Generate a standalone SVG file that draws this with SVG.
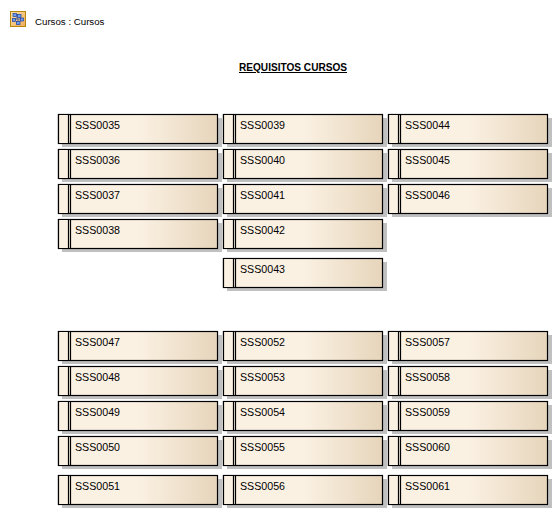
<svg xmlns="http://www.w3.org/2000/svg" width="558" height="515" viewBox="0 0 558 515">
<style>
text{font-family:"Liberation Sans",Arial,sans-serif;font-size:10.67px;fill:#000}
.s{fill:#c0c0c0}
.b{fill:url(#g);stroke:#000;stroke-width:1.2}
.l{fill:#fbf1e3;stroke:#000;stroke-width:1.2}
.i{fill:#6f9ff0;stroke:#1a3fa0;stroke-width:.7}
</style>
<defs>
<linearGradient id="g" x1="0" x2="1" y1="0" y2="0"><stop offset="0" stop-color="#fbf1e3"/><stop offset=".5" stop-color="#fbf1e3"/><stop offset="1" stop-color="#e6d5bb"/></linearGradient>
<linearGradient id="ic" x1="0" x2="1" y1="0" y2="1"><stop offset="0" stop-color="#fbe3a8"/><stop offset="1" stop-color="#eda95a"/></linearGradient>
<g id="n"><rect class="s" x="4" y="4" width="160" height="29"/><rect class="b" x=".5" y=".5" width="159" height="29"/><path class="l" d="M.5 .5H10.500V29.500H.5Z"/><path d="M12.500 .5V29.500" stroke="#000" stroke-width="1.200" fill="none"/></g>
</defs>
<rect width="558" height="515" fill="#fff"/>
<g id="header">
<rect x="10.500" y="11.500" width="15" height="15" fill="url(#ic)" stroke="#b8860b"/>
<path d="M17 15V19M14 19H22M14 19V21M18 19V23M22 19V21" stroke="#1a3fa0" stroke-width=".7" fill="none"/>
<rect class="i" x="13" y="13.500" width="3.500" height="3"/><rect class="i" x="17.500" y="14.500" width="3.500" height="3"/><rect class="i" x="12.500" y="18.500" width="3" height="3"/><rect class="i" x="20.500" y="18" width="3" height="3"/><rect class="i" x="16.500" y="21.500" width="3.500" height="3"/>
<text x="35" y="25" style="font-size:9.7px">Cursos : Cursos</text>
<text x="293" y="71" text-anchor="middle" style="font-weight:bold;font-size:10.1px;text-decoration:underline">REQUISITOS CURSOS</text>
</g>
<g id="connectors"/>
<g id="SSS0035" transform="translate(58 114)"><use href="#n"/><text x="17" y="15">SSS0035</text></g>
<g id="SSS0036" transform="translate(58 149)"><use href="#n"/><text x="17" y="15">SSS0036</text></g>
<g id="SSS0037" transform="translate(58 184)"><use href="#n"/><text x="17" y="15">SSS0037</text></g>
<g id="SSS0038" transform="translate(58 219)"><use href="#n"/><text x="17" y="15">SSS0038</text></g>
<g id="SSS0039" transform="translate(223 114)"><use href="#n"/><text x="17" y="15">SSS0039</text></g>
<g id="SSS0040" transform="translate(223 149)"><use href="#n"/><text x="17" y="15">SSS0040</text></g>
<g id="SSS0041" transform="translate(223 184)"><use href="#n"/><text x="17" y="15">SSS0041</text></g>
<g id="SSS0042" transform="translate(223 219)"><use href="#n"/><text x="17" y="15">SSS0042</text></g>
<g id="SSS0043" transform="translate(223 258)"><use href="#n"/><text x="17" y="15">SSS0043</text></g>
<g id="SSS0044" transform="translate(388 114)"><use href="#n"/><text x="17" y="15">SSS0044</text></g>
<g id="SSS0045" transform="translate(388 149)"><use href="#n"/><text x="17" y="15">SSS0045</text></g>
<g id="SSS0046" transform="translate(388 184)"><use href="#n"/><text x="17" y="15">SSS0046</text></g>
<g id="SSS0047" transform="translate(58 331)"><use href="#n"/><text x="17" y="15">SSS0047</text></g>
<g id="SSS0048" transform="translate(58 366)"><use href="#n"/><text x="17" y="15">SSS0048</text></g>
<g id="SSS0049" transform="translate(58 401)"><use href="#n"/><text x="17" y="15">SSS0049</text></g>
<g id="SSS0050" transform="translate(58 436)"><use href="#n"/><text x="17" y="15">SSS0050</text></g>
<g id="SSS0051" transform="translate(58 475)"><use href="#n"/><text x="17" y="15">SSS0051</text></g>
<g id="SSS0052" transform="translate(223 331)"><use href="#n"/><text x="17" y="15">SSS0052</text></g>
<g id="SSS0053" transform="translate(223 366)"><use href="#n"/><text x="17" y="15">SSS0053</text></g>
<g id="SSS0054" transform="translate(223 401)"><use href="#n"/><text x="17" y="15">SSS0054</text></g>
<g id="SSS0055" transform="translate(223 436)"><use href="#n"/><text x="17" y="15">SSS0055</text></g>
<g id="SSS0056" transform="translate(223 475)"><use href="#n"/><text x="17" y="15">SSS0056</text></g>
<g id="SSS0057" transform="translate(388 331)"><use href="#n"/><text x="17" y="15">SSS0057</text></g>
<g id="SSS0058" transform="translate(388 366)"><use href="#n"/><text x="17" y="15">SSS0058</text></g>
<g id="SSS0059" transform="translate(388 401)"><use href="#n"/><text x="17" y="15">SSS0059</text></g>
<g id="SSS0060" transform="translate(388 436)"><use href="#n"/><text x="17" y="15">SSS0060</text></g>
<g id="SSS0061" transform="translate(388 475)"><use href="#n"/><text x="17" y="15">SSS0061</text></g>
</svg>
